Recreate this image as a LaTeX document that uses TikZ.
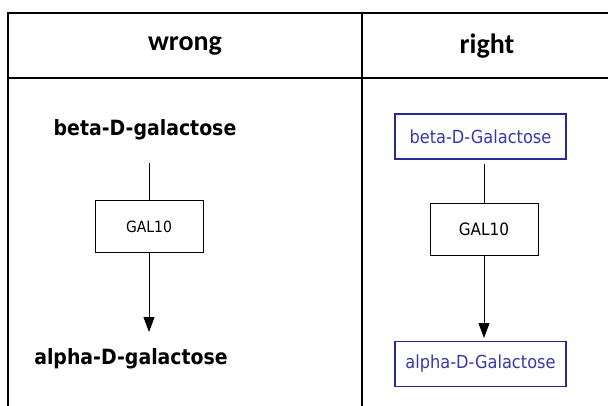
\documentclass[tikz,border=0pt]{standalone}
\usepackage{fontspec}
\setmainfont{Carlito}
\newfontfamily\labfont{DejaVu Sans Condensed}
\usetikzlibrary{arrows.meta}
\definecolor{labblue}{RGB}{55,55,170}
\definecolor{boxblue}{RGB}{40,40,150}
\tikzset{
  x=1pt,y=1pt,
  tbl/.style={line width=2pt,black},
  hdr/.style={font=\fontsize{28}{32}\selectfont\bfseries},
  wronglab/.style={font=\labfont\fontsize{21}{24}\selectfont\bfseries,inner sep=0pt},
  enzbox/.style={draw,line width=0.8pt,minimum width=108pt,minimum height=52pt,inner sep=0pt},
  rightbox/.style={draw=boxblue,line width=1.2pt,text=labblue,minimum width=171pt,minimum height=45pt,font=\labfont\fontsize{18}{20}\selectfont,inner sep=0pt},
  conn/.style={line width=0.8pt},
  arr/.style={line width=0.8pt,-{Triangle[length=15pt,width=11pt]}}
}
\begin{document}
\begin{tikzpicture}
\useasboundingbox (0,0) rectangle (608,405);
% table
\coordinate (tl) at (8,392);
\coordinate (tr) at (610,392);
\coordinate (hl) at (8,327);
\coordinate (hr) at (610,327);
\coordinate (bl) at (8,-2);
\coordinate (dt) at (362,392);
\coordinate (db) at (362,-2);
\draw[tbl] (tr) -- (tl) -- (bl);
\draw[tbl] (hl) -- (hr);
\draw[tbl] (dt) -- (db);
\node[hdr] (hw) at (185,359) {wrong};
\node[hdr] (hrt) at (487,359) {right};
% wrong
\node[wronglab] (wb) at (145,275) {beta-D-galactose};
\node[enzbox,font=\labfont\fontsize{15.5}{18}\selectfont] (we) at (149,178.5) {GAL10};
\node[wronglab] (wa) at (131,46) {alpha-D-galactose};
\coordinate (wbs) at (149,242);
\coordinate (wae) at (149,73);
\draw[conn] (wbs) -- (we.north);
\draw[arr] (we.south) -- (wae);
% right
\node[rightbox] (rb) at (480.5,268.5) {beta-D-Galactose};
\node[enzbox,font=\labfont\fontsize{17}{20}\selectfont] (re) at (484,176) {GAL10};
\node[rightbox] (ra) at (480.5,41) {alpha-D-Galactose};
\coordinate (rbs) at (484,241);
\coordinate (rae) at (484,67);
\draw[conn] (rbs) -- (re.north);
\draw[arr] (re.south) -- (rae);
\end{tikzpicture}
\end{document}
